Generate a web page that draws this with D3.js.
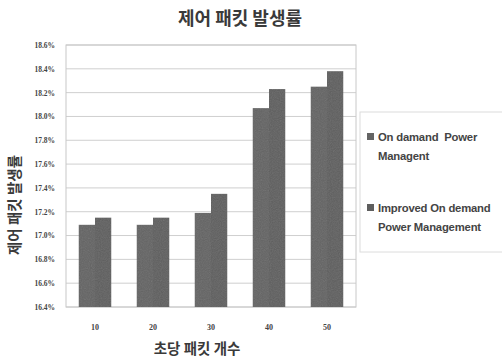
<!DOCTYPE html>
<html>
<head>
<meta charset="utf-8">
<script src="https://cdn.jsdelivr.net/npm/d3@7"></script>
<style>
  html, body { margin: 0; padding: 0; background: #fff; }
  svg { display: block; }
</style>
</head>
<body>
<svg id="chart" width="502" height="358"></svg>
<script>
// Packets per second (x categories)
const categories = ["10", "20", "30", "40", "50"];
// Control-packet generation rate (%), per scheme
const onDemand = [17.09, 17.09, 17.19, 18.07, 18.25];
const improvedOnDemand = [17.15, 17.15, 17.35, 18.23, 18.38];
const seriesNames = ["On damand  Power|Managent", "Improved On demand|Power Management"];
const yTicks = [16.4, 16.6, 16.8, 17.0, 17.2, 17.4, 17.6, 17.8, 18.0, 18.2, 18.4, 18.6];

const svg = d3.select("#chart");
const margin = { left: 66, right: 146, top: 45, bottom: 51 };
const W = 502, H = 358;
const plotW = W - margin.left - margin.right;
const plotH = H - margin.top - margin.bottom;

// Subtle grain on the bars
const defs = svg.append("defs");
const filt = defs.append("filter").attr("id", "grain");
filt.append("feTurbulence").attr("type", "fractalNoise").attr("baseFrequency", 0.9).attr("numOctaves", 1).attr("result", "n");
filt.append("feColorMatrix").attr("in", "n").attr("type", "saturate").attr("values", 0).attr("result", "g");
filt.append("feComponentTransfer").attr("in", "g").attr("result", "ga")
  .append("feFuncA").attr("type", "linear").attr("slope", 0.12);
filt.append("feComposite").attr("in", "ga").attr("in2", "SourceGraphic").attr("operator", "in").attr("result", "gm");
const fm = filt.append("feMerge");
fm.append("feMergeNode").attr("in", "SourceGraphic");
fm.append("feMergeNode").attr("in", "gm");

const g = svg.append("g").attr("transform", `translate(${margin.left},${margin.top})`);

const x = d3.scaleBand().domain(categories).range([0, plotW]).paddingInner(0.44).paddingOuter(0.22);
const xs = d3.scaleBand().domain([0, 1]).range([0, x.bandwidth()]);
const y = d3.scaleLinear().domain([16.4, 18.6]).range([plotH, 0]);

// Gridlines
g.append("g").selectAll("line").data(yTicks).join("line")
  .attr("x1", 0).attr("x2", plotW)
  .attr("y1", d => y(d)).attr("y2", d => y(d))
  .attr("stroke", "#cfcfcf").attr("stroke-width", 1);

// Plot frame
g.append("rect").attr("x", 0).attr("y", 0).attr("width", plotW).attr("height", plotH)
  .attr("fill", "none").attr("stroke", "#c8c8c8").attr("stroke-width", 1);

// Bars
const series = [onDemand, improvedOnDemand];
const barColors = ["#646464", "#5e5e5e"];
series.forEach((vals, si) => {
  g.append("g").attr("filter", "url(#grain)").selectAll("rect").data(vals).join("rect")
    .attr("x", (d, i) => x(categories[i]) + xs(si))
    .attr("y", d => y(d))
    .attr("width", xs.bandwidth())
    .attr("height", d => plotH - y(d))
    .attr("fill", barColors[si]);
});

// Y axis labels
const yAxis = d3.axisLeft(y).tickValues(yTicks).tickSize(0).tickPadding(11)
  .tickFormat(d => d.toFixed(1) + "%");
const ya = g.append("g").call(yAxis);
ya.select(".domain").remove();
ya.selectAll("text").attr("font-family", "Liberation Serif, serif").attr("font-size", 7.5)
  .attr("font-weight", "bold").attr("fill", "#444");

// X axis labels
const xAxis = d3.axisBottom(x).tickSize(0).tickPadding(17);
const xa = g.append("g").attr("transform", `translate(0,${plotH})`).call(xAxis);
xa.select(".domain").remove();
xa.selectAll("text").attr("font-family", "Liberation Serif, serif").attr("font-size", 8)
  .attr("font-weight", "bold").attr("fill", "#444");

// Title
svg.append("text").attr("x", 240).attr("y", 25).attr("text-anchor", "middle")
  .attr("font-family", "Noto Sans CJK KR").attr("font-weight", "bold").attr("font-size", 18)
  .attr("fill", "#3a3a3a").text("제어 패킷 발생률");

// Axis titles
svg.append("text").attr("transform", "translate(20,205) rotate(-90)").attr("text-anchor", "middle")
  .attr("font-family", "Noto Sans CJK KR").attr("font-weight", "bold").attr("font-size", 14.5)
  .attr("fill", "#3a3a3a").text("제어 패킷 발생률");
svg.append("text").attr("x", 197).attr("y", 354).attr("text-anchor", "middle")
  .attr("font-family", "Noto Sans CJK KR").attr("font-weight", "bold").attr("font-size", 14.5)
  .attr("fill", "#3a3a3a").text("초당 패킷 개수");

// Legend
const lg = svg.append("g");
lg.append("rect").attr("x", 360).attr("y", 112).attr("width", 150).attr("height", 140)
  .attr("fill", "none").attr("stroke", "#dcdcdc").attr("stroke-width", 1);
const legendY = [136, 207];
seriesNames.forEach((name, i) => {
  lg.append("rect").attr("x", 367).attr("y", legendY[i] - 3).attr("width", 7).attr("height", 7)
    .attr("fill", barColors[i]);
  const lines = name.split("|");
  const t = lg.append("text").attr("font-family", "Liberation Sans, Arial, sans-serif")
    .attr("font-size", 11.3).attr("font-weight", "bold").attr("fill", "#444")
    .attr("letter-spacing", -0.2);
  lines.forEach((ln, j) => {
    t.append("tspan").attr("x", 378).attr("y", legendY[i] + 5 + j * 18.5)
      .attr("xml:space", "preserve").text(ln);
  });
});
</script>
</body>
</html>
